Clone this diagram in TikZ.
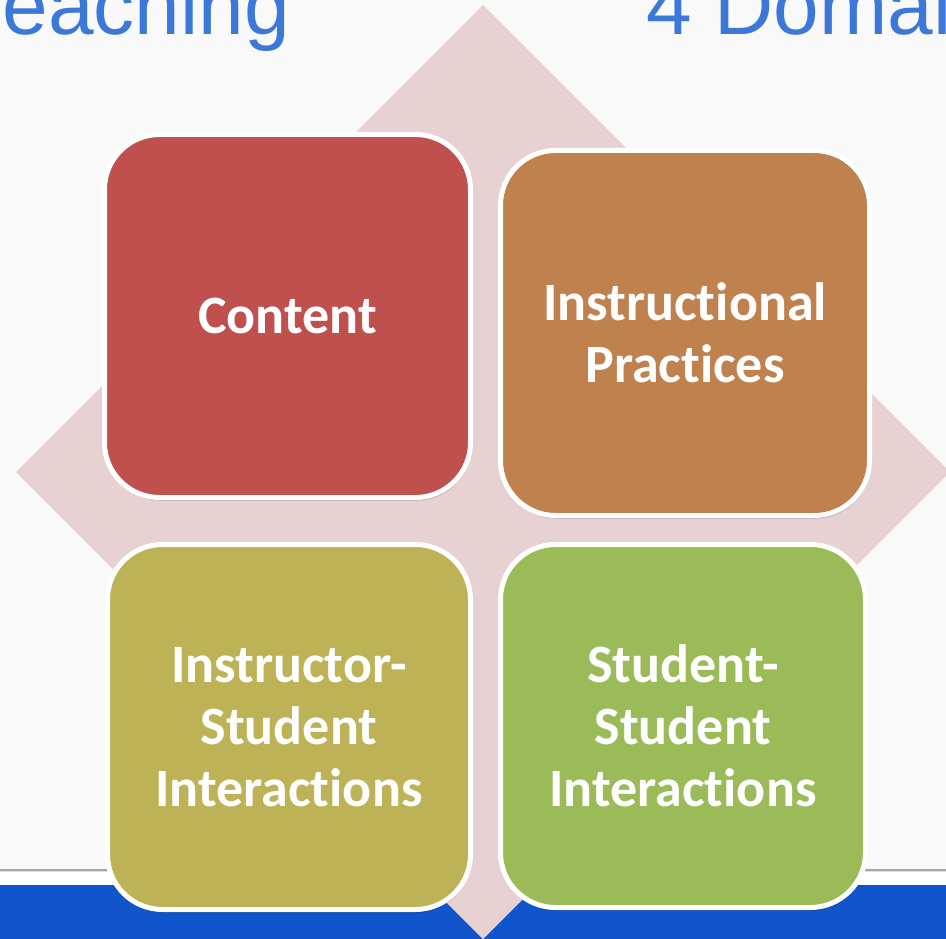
\documentclass[tikz,border=0pt]{standalone}
\usepackage{fontspec}
\newfontfamily\boxfont{Carlito}[Ligatures=NoCommon]
\newfontfamily\headfont{Liberation Sans}
\usetikzlibrary{shadows}

\definecolor{slidebg}{RGB}{249,249,249}
\definecolor{diamondpink}{RGB}{231,209,211}
\definecolor{barblue}{RGB}{17,85,204}
\definecolor{headblue}{RGB}{60,120,216}
\definecolor{contentred}{RGB}{192,80,77}
\definecolor{practiceorange}{RGB}{191,129,78}
\definecolor{instrolive}{RGB}{190,178,87}
\definecolor{studentgreen}{RGB}{155,187,89}

\tikzset{
  domainbox/.style={
    rectangle, rounded corners=55pt, draw=white, line width=5pt,
    inner sep=0pt, align=center, text=white,
    font=\boxfont\bfseries\fontsize{54}{62}\selectfont,
    drop shadow={shadow xshift=1pt, shadow yshift=-3pt, opacity=0.25, fill=black}
  },
  heading/.style={text=headblue, inner sep=0pt,
    font=\headfont\fontsize{82}{90}\selectfont}
}

\begin{document}
\begin{tikzpicture}[x=1pt, y=-1pt]
  % page frame
  \useasboundingbox (0,0) rectangle (946,939);
  \clip (0,0) rectangle (946,939);

  % slide background, footer strip and blue bar
  \fill[white] (0,0) rectangle (946,939);
  \fill[slidebg] (0,0) rectangle (946,869);
  \fill[black!35] (0,869) rectangle (946,871);
  \fill[black!12] (0,871) rectangle (946,872);
  \fill[barblue] (0,885) rectangle (946,939);

  % slide heading, running past the page edges
  \node[heading, anchor=base east] (headleft) at (290,35) {eaching};
  \node[heading, anchor=base west] (headright) at (646,35) {4 Domai};

  % diamond behind the four domains
  \fill[diamondpink] (483,5) -- (950,472) -- (483,939) -- (16,472) -- cycle;

  % the four domains
  \node[domainbox, fill=contentred, minimum width=366pt, minimum height=363pt]
    (content) at (287.5,316) {Content};
  \node[domainbox, fill=practiceorange, minimum width=369pt, minimum height=365pt]
    (practices) at (685,333) {Instructional\\Practices};
  \node[domainbox, fill=instrolive, minimum width=363pt, minimum height=365pt]
    (instructor) at (289,727) {Instructor-\\Student\\Interactions};
  \node[domainbox, fill=studentgreen, minimum width=365pt, minimum height=363pt]
    (student) at (683,726) {Student-\\Student\\Interactions};
\end{tikzpicture}
\end{document}
